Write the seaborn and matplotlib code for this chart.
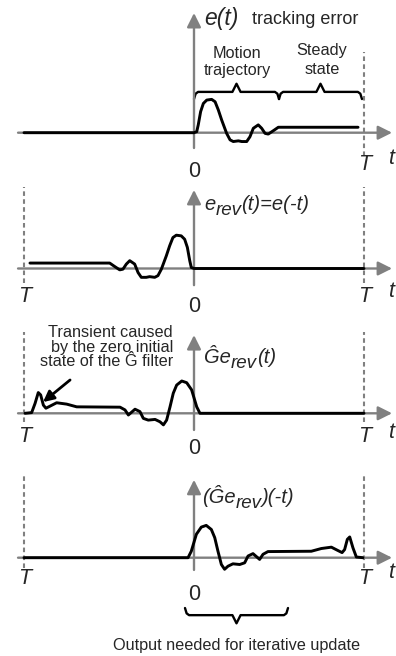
import numpy as np
import pandas as pd
import seaborn as sns
import matplotlib.pyplot as plt

sns.set_theme(style="white")
plt.rcParams["font.family"] = ["Liberation Sans", "DejaVu Sans"]
plt.rcParams["mathtext.default"] = "regular"

# ---------------------------------------------------------------- data
# time axis is normalised so that the trial length T = 1
# tracking error e(t)
e_t = [-1.0, 0.0, 0.016, 0.025, 0.039, 0.055, 0.075, 0.104, 0.124, 0.143,
       0.163, 0.192, 0.212, 0.231, 0.261, 0.281, 0.31, 0.329, 0.349, 0.378,
       0.398, 0.418, 0.437, 0.467, 0.496, 0.965]
e_amp = [0.0, 0.0, 0.03, 0.23, 0.62, 0.86, 0.96, 0.98, 0.91, 0.67,
         0.37, -0.02, -0.21, -0.26, -0.24, -0.26, -0.26, -0.12, 0.13, 0.23,
         0.13, -0.02, -0.04, 0.06, 0.16, 0.16]

# output of the filter G-hat driven by the time-reversed error
g_t = [-0.994, -0.955, -0.935, -0.916, -0.902, -0.886, -0.871, -0.847, -0.808,
       -0.749, -0.69, -0.435, -0.406, -0.386, -0.347, -0.318, -0.298, -0.269,
       -0.229, -0.2, -0.18, -0.161, -0.141, -0.122, -0.102, -0.072, -0.043,
       -0.014, 0.016, 0.035, 1.0]
g_amp = [0.0, 0.02, 0.29, 0.61, 0.54, 0.24, 0.15, 0.21, 0.31,
         0.27, 0.19, 0.18, 0.10, -0.05, 0.12, 0.05, -0.15, -0.20,
         -0.18, -0.25, -0.34, -0.20, 0.19, 0.59, 0.83, 0.95, 0.90,
         0.69, 0.19, 0.0, 0.0]

panel_labels = ["e(t)", "e_rev(t)=e(-t)", "Ĝe_rev(t)", "(Ĝe_rev)(-t)"]


def time_reversed(t, amp):
    """Signal s(-t) from samples of s(t)."""
    return pd.DataFrame({"t": [-v for v in reversed(t)], "amp": list(reversed(amp))})


e_df = pd.DataFrame({"t": e_t, "amp": e_amp})
e_rev_df = time_reversed(e_t, e_amp)
g_df = pd.DataFrame({"t": g_t, "amp": g_amp})
g_rev_df = time_reversed(g_t, g_amp)

# ---------------------------------------------------------------- layout
W, H = 396, 656
PX = 34.0                      # pixels per unit of amplitude
X0, X1 = -194 / 170, 202 / 170  # t-range across the full figure width
GRAY = "#808080"
CURVE_LW = 2.1

fig = plt.figure(figsize=(W / 100, H / 100), dpi=100)


def make_panel(top, bottom, base):
    ax = fig.add_axes([0, 1 - bottom / H, 1, (bottom - top) / H])
    ax.set_xlim(X0, X1)
    ax.set_ylim((base - bottom) / PX, (base - top) / PX)
    ax.axis("off")
    return ax


def draw_axes(ax, v_lo, v_hi):
    style = dict(arrowstyle="-|>", color=GRAY, lw=1.7, mutation_scale=21,
                 shrinkA=0, shrinkB=0)
    ax.annotate("", xy=(1.165, 0), xytext=(-1.035, 0), arrowprops=style,
                annotation_clip=False)
    ax.annotate("", xy=(0, v_hi), xytext=(0, v_lo), arrowprops=style,
                annotation_clip=False)


def dashed(ax, t, lo, hi):
    ax.plot([t, t], [lo, hi], color=GRAY, lw=1.5, ls=(0, (2.2, 1.6)), zorder=1)


def curve(ax, df):
    sns.lineplot(data=df, x="t", y="amp", ax=ax, color="black", lw=CURVE_LW,
                 estimator=None, sort=False, zorder=5)
    ax.lines[-1].set_solid_joinstyle("round")
    ax.set_xlabel("")
    ax.set_ylabel("")


def brace(ax, t0, t1, base, depth, tip, step=0.024):
    tm = (t0 + t1) / 2
    xs = [t0, t0 + step * 0.4, t0 + step, tm - step, tm, tm + step,
          t1 - step, t1 - step * 0.4, t1]
    ys = [base - depth, base - depth * 0.25, base, base, base + tip, base,
          base, base - depth * 0.25, base - depth]
    ax.plot(xs, ys, color="black", lw=1.7, solid_joinstyle="round",
            solid_capstyle="round", clip_on=False)


def ftext(x, y, s, size, **kw):
    kw.setdefault("ha", "center")
    kw.setdefault("va", "center")
    return fig.text(x / W, 1 - y / H, s, fontsize=size, **kw)


def sub_label(ax, x, y, parts, size=14.5, subsize=13.5, drop=5):
    """Italic label with lowered subscript pieces; y is the baseline (px)."""
    prev = None
    for text, is_sub in parts:
        yf = 1 - (y + (drop if is_sub else 0)) / H
        kw = dict(fontsize=subsize if is_sub else size, style="italic",
                  ha="left", va="baseline", annotation_clip=False)
        if prev is None:
            prev = ax.annotate(text, xy=(x / W, yf), xycoords="figure fraction", **kw)
        else:
            prev = ax.annotate(text, xy=(1, yf), xycoords=(prev, "figure fraction"), **kw)
    return prev


def tick_labels(y_T, y_0, y_t, left=True):
    if left:
        ftext(25, y_T, "T", 15.5, style="italic")
    ftext(365, y_T, "T", 15.5, style="italic")
    ftext(194, y_0, "0", 15.5)
    ftext(391, y_t, "t", 15.5, style="italic")


# ---------------------------------------------------------------- panel 1
ax1 = make_panel(0, 175, 132.7)
draw_axes(ax1, -0.45, 3.52)
dashed(ax1, 1.0, -0.68, 2.38)
curve(ax1, e_df)
brace(ax1, 0.0, 0.5, 1.2, 0.21, 0.24)
brace(ax1, 0.5, 0.988, 1.2, 0.21, 0.24)
ftext(204, 25, panel_labels[0], 16.5, style="italic", ha="left", va="baseline")
ftext(252, 24, "tracking error", 13, ha="left", va="baseline")
ftext(237, 53, "Motion", 11.7)
ftext(237, 71, "trajectory", 11.7)
ftext(322, 51, "Steady", 11.7)
ftext(322, 70, "state", 11.7)
tick_labels(165, 171, 158, left=False)

# ---------------------------------------------------------------- panel 2
ax2 = make_panel(175, 318, 268.5)
draw_axes(ax2, -0.49, 2.31)
dashed(ax2, -1.0, -0.43, 2.4)
dashed(ax2, 1.0, -0.43, 2.4)
curve(ax2, e_rev_df)
sub_label(ax2, 204, 210, [("e", False), ("rev", True), ("(t)=e(-t)", False)])
tick_labels(296, 306, 292)

# ---------------------------------------------------------------- panel 3
ax3 = make_panel(318, 462, 413.3)
draw_axes(ax3, -0.49, 2.3)
dashed(ax3, -1.0, -0.25, 2.39)
dashed(ax3, 1.0, -0.25, 2.39)
curve(ax3, g_df)
sub_label(ax3, 204, 363, [("Ĝe", False), ("rev", True), ("(t)", False)])
ftext(173, 337, "Transient caused", 11.7, ha="right", va="baseline")
ftext(173, 352, "by the zero initial", 11.7, ha="right", va="baseline")
ftext(173, 366, "state of the Ĝ filter", 11.7, ha="right", va="baseline")
ax3.annotate("", xy=(-0.888, 0.33), xytext=(-0.729, 0.98),
             arrowprops=dict(arrowstyle="-|>", color="black", lw=2,
                             mutation_scale=16, shrinkA=0, shrinkB=0))
tick_labels(436, 449, 432)

# ---------------------------------------------------------------- panel 4
ax4 = make_panel(462, 656, 557.7)
draw_axes(ax4, -0.36, 2.29)
dashed(ax4, -1.0, -0.3, 2.49)
dashed(ax4, 1.0, -0.3, 2.49)
curve(ax4, g_rev_df)
sub_label(ax4, 202, 503, [("(Ĝe", False), ("rev", True), (")(-t)", False)])
brace(ax4, -0.053, 0.553, -1.69, -0.21, -0.24)
ftext(237, 650, "Output needed for iterative update", 11.7, va="baseline")
tick_labels(579, 594, 573)

fig.savefig("out.png", dpi=100)
